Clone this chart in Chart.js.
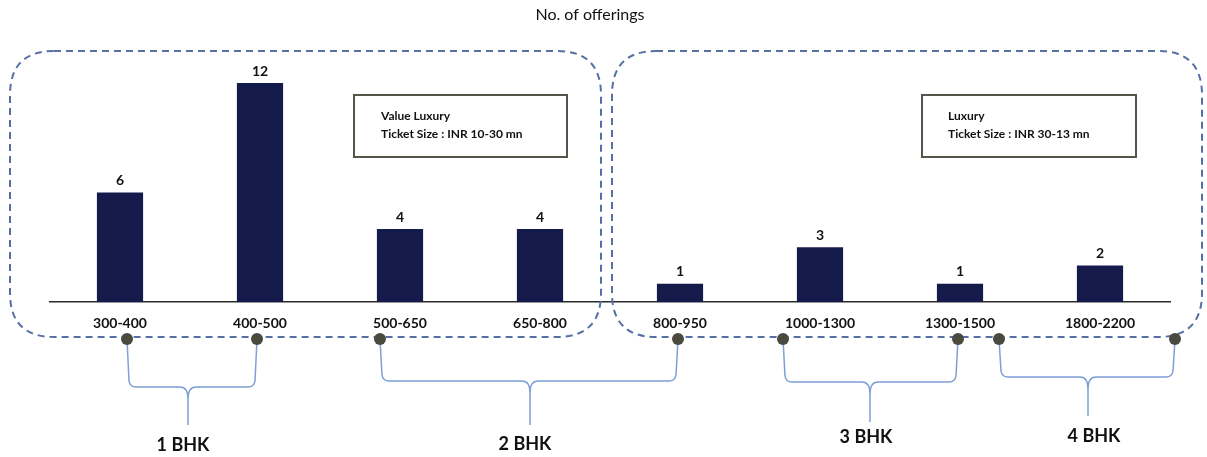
<!DOCTYPE html>
<html>
<head>
<meta charset="utf-8">
<script src="https://cdn.jsdelivr.net/npm/chart.js@4/dist/chart.umd.min.js"></script>
<style>
  html, body { margin: 0; padding: 0; background: #fff; }
  #wrap { width: 1207px; height: 457px; }
</style>
</head>
<body>
<div id="wrap"><canvas id="offerChart" width="1207" height="457"></canvas></div>
<script>
// sizes (sq ft) and number of offerings
const sizeRanges = ["300-400","400-500","500-650","650-800","800-950","1000-1300","1300-1500","1800-2200"];
const offerings = [6, 12, 4, 4, 1, 3, 1, 2];
const chartTitle = "No. of offerings";
const segmentNames = ["Value Luxury", "Luxury"];
const segmentTickets = ["Ticket Size : INR 10-30 mn", "Ticket Size : INR 30-13 mn"];
const bhkNames = ["1 BHK", "2 BHK", "3 BHK", "4 BHK"];

const FONT = "Lato, 'Open Sans', sans-serif";
const NAVY = "#141b4b";

function roundBox(ctx, x0, y0, x1, y1, r){
    ctx.beginPath();
    ctx.moveTo(x0 + r, y0);
    ctx.lineTo(x1 - r, y0);
    ctx.quadraticCurveTo(x1, y0, x1, y0 + r);
    ctx.lineTo(x1, y1 - r);
    ctx.quadraticCurveTo(x1, y1, x1 - r, y1);
    ctx.lineTo(x0 + r, y1);
    ctx.quadraticCurveTo(x0, y1, x0, y1 - r);
    ctx.lineTo(x0, y0 + r);
    ctx.quadraticCurveTo(x0, y0, x0 + r, y0);
    ctx.stroke();
}

// curly brace opening downwards: from dot a to dot b, flat at yb, tip at (tx, ty)
function brace(ctx, ax, bx, y0, yb, tx, ty){
    const r = 6;
    ctx.beginPath();
    ctx.moveTo(ax, y0);
    ctx.lineTo(ax + 2, yb - r);
    ctx.quadraticCurveTo(ax + 3, yb, ax + 3 + r, yb);
    ctx.lineTo(tx - 8, yb);
    ctx.quadraticCurveTo(tx, yb, tx, yb + 12);
    ctx.lineTo(tx, ty);
    ctx.moveTo(tx, yb + 12);
    ctx.quadraticCurveTo(tx, yb, tx + 8, yb);
    ctx.lineTo(bx - 3 - r, yb);
    ctx.quadraticCurveTo(bx - 3, yb, bx - 2, yb - r);
    ctx.lineTo(bx, y0);
    ctx.stroke();
}

const decor = {
    id: "decor",
    beforeDatasetsDraw(chart){
        const ctx = chart.ctx, x = chart.scales.x;
        const c = i => x.getPixelForValue(i);
        const bottom = chart.chartArea.bottom + 35;
        ctx.save();
        // dashed segment boxes
        ctx.strokeStyle = "#5670a5";
        ctx.lineWidth = 2;
        ctx.setLineDash([7, 5]);
        roundBox(ctx, c(0) - 110, 51, c(3) + 61, bottom, 44);
        roundBox(ctx, c(4) - 68, 51, c(7) + 102, bottom, 44);
        ctx.setLineDash([]);

        // segment note boxes
        ctx.strokeStyle = "#55554a";
        ctx.lineWidth = 2;
        ctx.strokeRect(c(2) - 46, 95, 213, 62);
        ctx.strokeRect(c(6) - 38, 95, 214, 62);
        ctx.fillStyle = "#111";
        ctx.font = "bold 12px " + FONT;
        ctx.textAlign = "left";
        ctx.textBaseline = "middle";
        ctx.fillText(segmentNames[0], c(2) - 19, 116);
        ctx.fillText(segmentTickets[0], c(2) - 19, 134);
        ctx.fillText(segmentNames[1], c(6) - 12, 116);
        ctx.fillText(segmentTickets[1], c(6) - 12, 134);

        // title
        ctx.font = "16px " + FONT;
        ctx.textAlign = "center";
        ctx.fillText(chartTitle, 590, 15);

        // braces
        const dy = bottom + 2;
        ctx.strokeStyle = "#7d9fd6";
        ctx.lineWidth = 1.5;
        brace(ctx, c(0) + 7, c(1) - 3, dy, 387, 188, 425);
        brace(ctx, c(2) - 20, c(4) - 2, dy, 381, 530, 425);
        brace(ctx, c(5) - 37, c(6) - 2, dy, 382, 870, 422);
        brace(ctx, c(7) - 101, c(7) + 75, dy, 377, 1088, 416);

        // dots
        ctx.fillStyle = "#4a4a3e";
        [c(0) + 7, c(1) - 3, c(2) - 20, c(4) - 2, c(5) - 37, c(6) - 2, c(7) - 101, c(7) + 75].forEach(px => {
            ctx.beginPath();
            ctx.arc(px, dy, 6, 0, Math.PI * 2);
            ctx.fill();
        });

        // BHK labels
        ctx.fillStyle = "#111";
        ctx.font = "bold 18px " + FONT;
        ctx.fillText(bhkNames[0], 183, 445);
        ctx.fillText(bhkNames[1], 525, 444);
        ctx.fillText(bhkNames[2], 866, 437);
        ctx.fillText(bhkNames[3], 1094, 436);
        ctx.restore();
    },
    afterDatasetsDraw(chart){
        const ctx = chart.ctx;
        ctx.save();
        ctx.fillStyle = "#111";
        ctx.font = "bold 14px " + FONT;
        ctx.textAlign = "center";
        ctx.textBaseline = "middle";
        chart.getDatasetMeta(0).data.forEach((bar, i) => {
            ctx.fillText(offerings[i], bar.x, bar.y - 12);
        });
        ctx.restore();
    }
};

new Chart(document.getElementById("offerChart").getContext("2d"), {
    type: "bar",
    data: {
        labels: sizeRanges,
        datasets: [{ data: offerings, backgroundColor: NAVY, borderWidth: 0,
                     categoryPercentage: 1, barPercentage: 0.33 }]
    },
    options: {
        responsive: false,
        animation: false,
        layout: { padding: { left: 50, right: 37, top: 83, bottom: 0 } },
        plugins: { legend: { display: false }, tooltip: { enabled: false }, title: { display: false } },
        scales: {
            x: {
                grid: { display: false },
                border: { display: true, color: "#2b2b2b", width: 1.5 },
                ticks: { color: "#111", font: { family: FONT, size: 14, weight: "bold" }, padding: 5, maxRotation: 0 },
                afterFit(s){ s.height = 155; }
            },
            y: { display: false, min: 0, max: 12 }
        }
    },
    plugins: [decor]
});
</script>
</body>
</html>
